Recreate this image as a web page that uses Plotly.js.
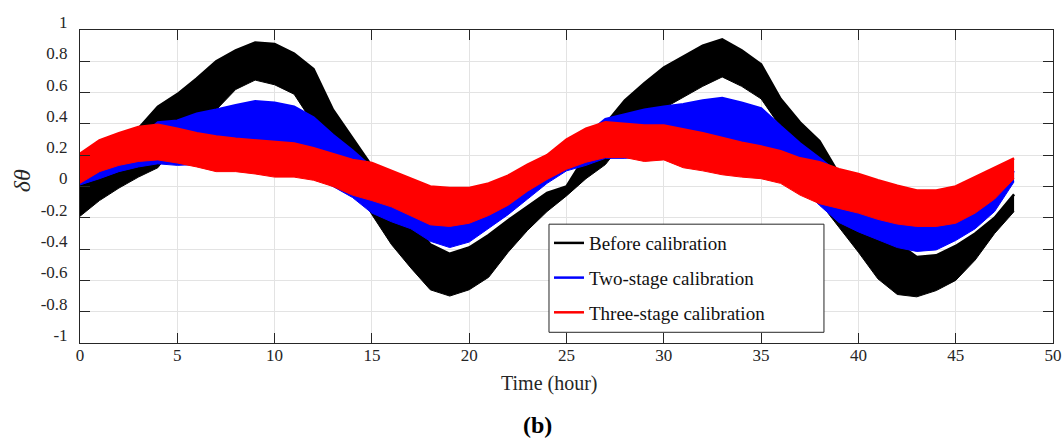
<!DOCTYPE html>
<html>
<head>
<meta charset="utf-8">
<script src="https://cdn.plot.ly/plotly-3.0.1.min.js"></script>
<style>html,body{margin:0;padding:0;background:#fff;}#chart{width:1064px;height:441px;}</style>
</head>
<body>
<div id="chart"></div>
<script>
// Time in hours (envelope sample points)
const hours = [0,1,2,3,4,5,6,7,8,9,10,11,12,13,14,15,16,17,18,19,20,21,22,23,24,25,26,27,28,29,30,31,32,33,34,35,36,37,38,39,40,41,42,43,44,45,46,47,48];

// Before calibration: upper / lower envelope of the oscillating band
const beforeUpper = [0.02,0.14,0.26,0.37,0.51,0.59,0.69,0.80,0.87,0.92,0.91,0.85,0.75,0.49,0.31,0.13,-0.04,-0.20,-0.37,-0.43,-0.39,-0.31,-0.215,-0.125,-0.04,0.0,0.20,0.40,0.55,0.66,0.76,0.83,0.90,0.94,0.87,0.78,0.56,0.41,0.29,0.08,-0.05,-0.20,-0.36,-0.45,-0.44,-0.38,-0.30,-0.20,-0.05];
const beforeLower = [-0.19,-0.09,-0.01,0.06,0.12,0.28,0.38,0.49,0.62,0.68,0.65,0.59,0.40,0.20,0.02,-0.18,-0.37,-0.52,-0.66,-0.70,-0.66,-0.58,-0.42,-0.28,-0.16,-0.06,0.05,0.14,0.30,0.45,0.50,0.57,0.64,0.70,0.64,0.56,0.38,0.15,-0.10,-0.26,-0.42,-0.59,-0.69,-0.705,-0.665,-0.60,-0.47,-0.30,-0.16];

// Two-stage calibration
const twoUpper = [0.06,0.12,0.20,0.30,0.41,0.42,0.465,0.49,0.52,0.545,0.535,0.51,0.44,0.33,0.23,0.12,0.03,-0.05,-0.12,-0.16,-0.14,-0.08,0.00,0.08,0.16,0.24,0.33,0.43,0.46,0.49,0.51,0.525,0.55,0.565,0.535,0.50,0.385,0.275,0.18,0.08,0.00,-0.08,-0.14,-0.16,-0.15,-0.12,-0.05,0.02,0.10];
const twoLower = [0.01,0.05,0.095,0.125,0.145,0.135,0.14,0.13,0.12,0.11,0.10,0.09,0.06,0.00,-0.07,-0.17,-0.225,-0.27,-0.35,-0.39,-0.355,-0.27,-0.18,-0.08,0.02,0.10,0.135,0.18,0.18,0.19,0.19,0.17,0.15,0.13,0.10,0.08,0.05,0.00,-0.12,-0.23,-0.29,-0.34,-0.39,-0.415,-0.405,-0.345,-0.27,-0.16,0.03];

// Three-stage calibration
const threeUpper = [0.21,0.295,0.34,0.38,0.395,0.37,0.34,0.32,0.305,0.295,0.285,0.275,0.245,0.205,0.17,0.15,0.10,0.05,0.00,-0.01,-0.01,0.02,0.07,0.14,0.20,0.30,0.37,0.41,0.40,0.39,0.39,0.365,0.34,0.31,0.28,0.255,0.225,0.18,0.155,0.11,0.08,0.04,0.005,-0.025,-0.025,0.00,0.06,0.12,0.18];
const threeLower = [0.02,0.095,0.135,0.16,0.17,0.15,0.125,0.095,0.095,0.08,0.06,0.06,0.04,0.00,-0.055,-0.09,-0.13,-0.19,-0.245,-0.255,-0.235,-0.185,-0.12,-0.03,0.045,0.11,0.155,0.185,0.185,0.16,0.17,0.12,0.10,0.075,0.06,0.05,0.02,-0.055,-0.11,-0.14,-0.17,-0.21,-0.24,-0.255,-0.255,-0.235,-0.17,-0.08,0.05];

const seriesNames = ['Before calibration','Two-stage calibration','Three-stage calibration'];
const seriesColors = ['#000000','#0000ff','#ff0000'];

const xTicks = [0,5,10,15,20,25,30,35,40,45,50];
const yTickVals = [1,0.8,0.6,0.4,0.2,0,-0.2,-0.4,-0.6,-0.8,-1];
const yTickText = ['1','0.8','0.6','0.4','0.2','0','-0.2','-0.4','-0.6','-0.8','-1'];

const uppers = [beforeUpper, twoUpper, threeUpper];
const lowers = [beforeLower, twoLower, threeLower];

const FONT = 'Liberation Serif';
const traces = [];
for (let i = 0; i < 3; i++) {
  traces.push({
    x: hours, y: uppers[i], type: 'scatter', mode: 'lines',
    name: seriesNames[i], legendgroup: 'g' + i, showlegend: true,
    line: {color: seriesColors[i], width: 2.5},
    hoverinfo: 'skip'
  });
  traces.push({
    x: hours, y: lowers[i], type: 'scatter', mode: 'lines',
    name: seriesNames[i], legendgroup: 'g' + i, showlegend: false,
    fill: 'tonexty', fillcolor: seriesColors[i],
    line: {color: seriesColors[i], width: 1},
    hoverinfo: 'skip'
  });
}

const layout = {
  width: 1064, height: 441,
  margin: {l: 80, r: 11, t: 30, b: 98},
  paper_bgcolor: '#ffffff', plot_bgcolor: '#ffffff',
  font: {family: FONT, size: 17, color: '#262626'},
  showlegend: true,
  legend: {
    x: 0.482, y: 0.38, xanchor: 'left', yanchor: 'top',
    bgcolor: 'rgba(0,0,0,0)', borderwidth: 0,
    font: {family: FONT, size: 19, color: '#111111'},
    traceorder: 'grouped', tracegroupgap: 7
  },
  shapes: [
    {type: 'rect', xref: 'paper', yref: 'paper', x0: 0.482, x1: 0.7646, y0: 0.0342, y1: 0.3796,
     fillcolor: '#ffffff', line: {color: '#262626', width: 1}, layer: 'above'}
  ],
  xaxis: {
    range: [0, 50], tickvals: xTicks, ticktext: xTicks.map(String),
    showgrid: true, gridcolor: '#e3e3e3', gridwidth: 1,
    zeroline: false, showline: true, linecolor: '#262626', linewidth: 1,
    mirror: 'ticks', ticks: 'inside', ticklen: 10, tickcolor: '#262626', tickwidth: 1,
    tickfont: {family: FONT, size: 17, color: '#262626'},
    ticklabelstandoff: -3
  },
  yaxis: {
    range: [-1, 1], tickvals: yTickVals, ticktext: yTickText,
    showgrid: true, gridcolor: '#e3e3e3', gridwidth: 1,
    zeroline: false, showline: true, linecolor: '#262626', linewidth: 1,
    mirror: 'ticks', ticks: 'inside', ticklen: 10, tickcolor: '#262626', tickwidth: 1,
    tickfont: {family: FONT, size: 17, color: '#262626'},
    ticklabelshift: -8, ticklabelstandoff: 8
  },
  annotations: [
    {text: 'Time (hour)', xref: 'paper', yref: 'paper', x: 0.482, y: -0.129,
     xanchor: 'center', yanchor: 'middle', showarrow: false,
     font: {family: FONT, size: 20, color: '#262626'}},
    {text: '<b>(b)</b>', xref: 'paper', yref: 'paper', x: 0.4707, y: -0.263,
     xanchor: 'center', yanchor: 'middle', showarrow: false,
     font: {family: FONT, size: 24, color: '#000000'}},
    {text: '<i>δθ</i>', xref: 'paper', yref: 'paper', x: -0.0596, y: 0.517,
     xanchor: 'center', yanchor: 'middle', showarrow: false, textangle: -90,
     font: {family: FONT, size: 24, color: '#262626'}}
  ]
};

Plotly.newPlot('chart', traces, layout, {displayModeBar: false, staticPlot: true});
</script>
</body>
</html>
